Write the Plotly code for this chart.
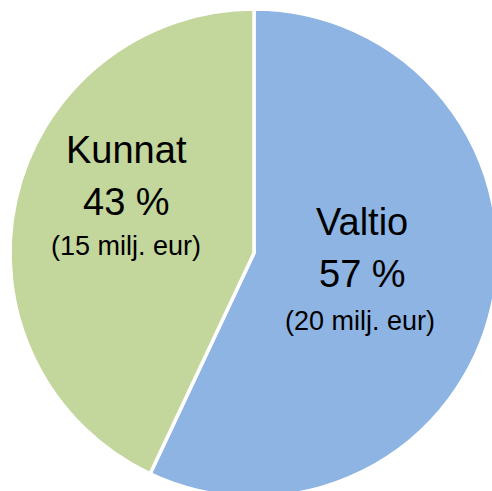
import plotly.graph_objects as go

labels = ["Valtio", "Kunnat"]
percents = [57, 43]
amounts_meur = [20, 15]
colors = ["#8EB4E3", "#C3D69B"]

W, H = 498, 497
ML, MT = 10, 9
D = 488

fig = go.Figure(go.Pie(
    labels=labels,
    values=percents,
    sort=False,
    direction="clockwise",
    rotation=0,
    marker=dict(colors=colors, line=dict(color="white", width=3.5)),
    textinfo="none",
    hoverinfo="label+percent",
    showlegend=False,
    domain=dict(x=[0, 1], y=[0, 1]),
))

def px2paper(px, py):
    return (px - ML) / D, 1 - (py - MT) / D

# label positions (pixel centers) per slice: name, percent, amount lines
label_pos = {
    "Valtio": [(362, 222), (362, 274), (360, 321)],
    "Kunnat": [(126, 150), (126, 202), (126, 246)],
}
font_sizes = [38, 38, 27]
FONT = "Liberation Sans, Arial, sans-serif"

for lab, pct, amt in zip(labels, percents, amounts_meur):
    texts = [lab, f"{pct} %", f"({amt} milj. eur)"]
    for t, (px, py), fs in zip(texts, label_pos[lab], font_sizes):
        x, y = px2paper(px, py)
        fig.add_annotation(
            x=x, y=y, xref="paper", yref="paper",
            text=t, showarrow=False,
            xanchor="center", yanchor="middle",
            font=dict(size=fs, color="black", family=FONT),
        )

fig.update_layout(
    width=W, height=H,
    margin=dict(l=ML, t=MT, r=W - ML - D, b=H - MT - D, pad=0),
    paper_bgcolor="white",
    plot_bgcolor="white",
)

fig.write_html(
    "out.html",
    config={"displayModeBar": False},
    post_script="document.body.style.margin='0';document.body.style.overflow='hidden';",
)
